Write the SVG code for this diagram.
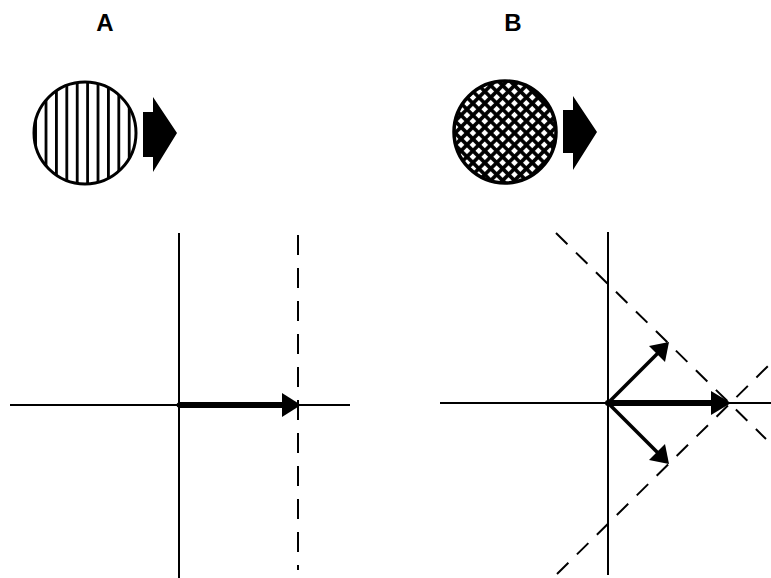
<svg xmlns="http://www.w3.org/2000/svg" width="771" height="578" viewBox="0 0 771 578">
<style>
.lbl{font-family:"Liberation Sans",Arial,sans-serif;font-weight:bold;font-size:24px;fill:#000}
.ax{stroke:#000;stroke-width:2;fill:none}
.dash{stroke:#000;stroke-width:2;fill:none;stroke-dasharray:20 13}
.ddash{stroke:#000;stroke-width:2;fill:none;stroke-dasharray:16 12}
.blk{fill:#000}
</style>
<defs>
<clipPath id="cA"><circle cx="85" cy="133" r="51"/></clipPath>
<pattern id="stripes" x="3" y="0" width="10.4" height="10" patternUnits="userSpaceOnUse">
<rect x="0" y="0" width="2.8" height="10" fill="#000"/>
</pattern>
<pattern id="hatch" x="0" y="0" width="8.4" height="8.4" patternUnits="userSpaceOnUse" patternTransform="rotate(45 505 132)">
<rect width="8.4" height="8.4" fill="#000"/>
<rect x="1.8" y="1.8" width="4.8" height="4.8" fill="#fff"/>
</pattern>
</defs>

<g id="panelA">
<text class="lbl" x="105" y="31" text-anchor="middle">A</text>
<g id="circleA">
<circle cx="85" cy="133" r="51" fill="#fff"/>
<rect x="30" y="78" width="110" height="110" fill="url(#stripes)" clip-path="url(#cA)"/>
<circle cx="85" cy="133" r="51" fill="none" stroke="#000" stroke-width="3"/>
</g>
<path id="arrowA" class="blk" d="M143,112 L153,112 L153,97 L177,133 L153,172 L153,157 L143,157 Z"/>
</g>

<g id="panelB">
<text class="lbl" x="513" y="31" text-anchor="middle">B</text>
<g id="circleB">
<circle cx="505" cy="132" r="51" fill="url(#hatch)"/>
<circle cx="505" cy="132" r="51" fill="none" stroke="#000" stroke-width="3.5"/>
</g>
<path id="arrowB" class="blk" d="M563,110 L573,110 L573,96 L597,132 L573,170 L573,153 L563,153 Z"/>
</g>

<g id="connectors">
<line class="ax" x1="179" y1="233" x2="179" y2="578"/>
<line class="ax" x1="10" y1="405" x2="350" y2="405"/>
<line class="dash" x1="298" y1="235" x2="298" y2="570"/>
<line x1="179" y1="405" x2="286" y2="405" stroke="#000" stroke-width="6"/>
<path class="blk" d="M282,393 L301,405 L282,417 Z"/>
<line class="ax" x1="608" y1="232" x2="608" y2="575"/>
<line class="ax" x1="440" y1="403" x2="771" y2="403"/>
<line class="ddash" x1="556" y1="233" x2="766" y2="439"/>
<line class="ddash" x1="557" y1="574" x2="768" y2="366"/>
<line x1="608" y1="403" x2="716" y2="403" stroke="#000" stroke-width="6"/>
<path class="blk" d="M711,391 L731,403 L711,415 Z"/>
<line x1="608" y1="403" x2="661" y2="350" stroke="#000" stroke-width="3.5"/>
<path class="blk" d="M669,342 L665,362 L649,346 Z"/>
<line x1="608" y1="403" x2="661" y2="456" stroke="#000" stroke-width="3.5"/>
<path class="blk" d="M669,464 L649,460 L665,444 Z"/>
<circle cx="608" cy="403" r="3" fill="#000"/>
<circle cx="179" cy="405" r="2.5" fill="#000"/>
</g>
</svg>
